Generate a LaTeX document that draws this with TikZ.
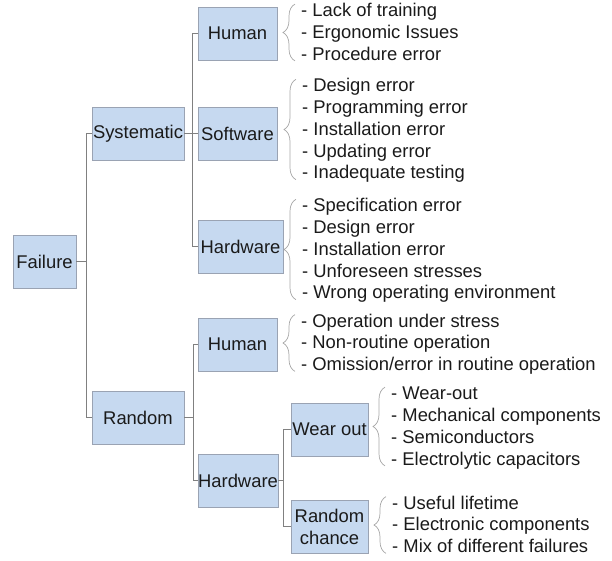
\documentclass[tikz,border=0pt]{standalone}
\usepackage{fontspec}
\setmainfont{Liberation Sans}
\usetikzlibrary{decorations.pathreplacing}
\definecolor{boxfill}{HTML}{C6D9F0}
\definecolor{boxline}{HTML}{9AA3B3}
\definecolor{connc}{HTML}{808080}
\definecolor{bracec}{HTML}{A6A6A6}
\definecolor{txtc}{HTML}{1A1A1A}
\begin{document}
\begin{tikzpicture}[x=1pt,y=-1pt,
  box/.style={draw=boxline, line width=0.6pt, fill=boxfill, inner sep=0pt,
    minimum height=53pt, align=center, text=txtc, font=\fontsize{18.4}{22}\selectfont},
  items/.style={anchor=west, inner sep=0pt, align=left, text=txtc,
    font=\fontsize{18.4}{21.8}\selectfont},
  link/.style={draw=connc, line width=0.8pt},
  bracket/.style={draw=bracec, line width=0.7pt, decorate,
    decoration={brace, amplitude=12pt}}
]
\useasboundingbox (0,0) rectangle (612,561);

% boxes
\node[box, minimum width=63pt] (fail) at (44.5,261.5) {Failure};
\node[box, minimum width=92pt] (sys) at (138,133.5) {Systematic};
\node[box, minimum width=92pt] (rand) at (138,417.5) {Random};
\node[box, minimum width=79pt] (shum) at (237.5,33.5) {Human};
\node[box, minimum width=79pt] (soft) at (237.5,133.5) {Software};
\node[box, minimum width=85pt] (shw) at (240.5,246.5) {Hardware};
\node[box, minimum width=79pt] (rhum) at (237.5,344.5) {Human};
\node[box, minimum width=80pt] (rhw) at (238,480.5) {Hardware};
\node[box, minimum width=77pt] (wear) at (329.5,429.5) {Wear out};
\node[box, minimum width=77pt] (chance) at (329.5,526.5) {Random\\chance};

% item lists
\node[items] (lhum) at (301,34) {\strut- Lack of training\\\strut- Ergonomic Issues\\\strut- Procedure error};
\node[items] (lsoft) at (302,131) {\strut- Design error\\\strut- Programming error\\\strut- Installation error\\\strut- Updating error\\\strut- Inadequate testing};
\node[items] (lshw) at (302,251) {\strut- Specification error\\\strut- Design error\\\strut- Installation error\\\strut- Unforeseen stresses\\\strut- Wrong operating environment};
\node[items] (lrhum) at (301,344.5) {\strut- Operation under stress\\\strut- Non-routine operation\\\strut- Omission/error in routine operation};
\node[items] (lwear) at (391,428) {\strut- Wear-out\\\strut- Mechanical components\\\strut- Semiconductors\\\strut- Electrolytic capacitors};
\node[items] (lchance) at (392,526.5) {\strut- Useful lifetime\\\strut- Electronic components\\\strut- Mix of different failures};

% braces
\foreach \l in {lhum,lsoft,lshw,lrhum,lwear,lchance}{
  \draw[bracket] ([xshift=-6pt,yshift=6pt]\l.south west) -- ([xshift=-6pt,yshift=-3pt]\l.north west);
}

% connectors
\draw[link] (fail.east) -- ++(10,0) |- (sys.west);
\draw[link] (fail.east) -- ++(10,0) |- (rand.west);
\draw[link] (sys.east) -- ++(8.5,0) |- (shum.west);
\draw[link] (sys.east) -- ++(8.5,0) |- (soft.west);
\draw[link] (sys.east) -- ++(8.5,0) |- (shw.west);
\draw[link] (rand.east) -- ++(9,0) |- (rhum.west);
\draw[link] (rand.east) -- ++(9,0) |- (rhw.west);
\draw[link] (rhw.east) -- ++(5.5,0) |- (wear.west);
\draw[link] (rhw.east) -- ++(5.5,0) |- (chance.west);
\end{tikzpicture}
\end{document}
